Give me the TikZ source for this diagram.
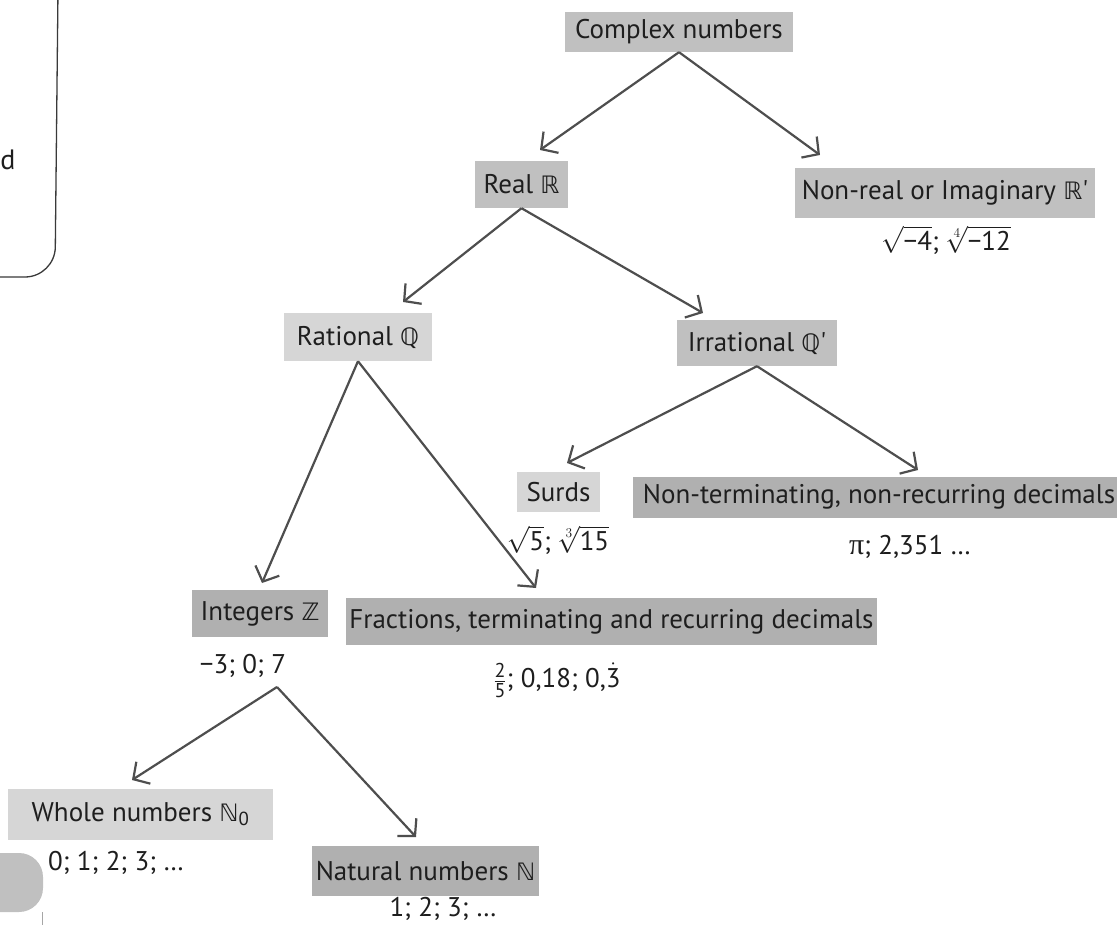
\RequirePackage{fix-cm}
\documentclass[tikz,border=0pt]{standalone}
\usepackage{fontspec}
\setmainfont{PT Sans}
\newfontfamily\dsfont{DejaVu Sans}
\newfontfamily\pifont{Liberation Serif}
\usetikzlibrary{arrows.meta}
\definecolor{boxdark}{HTML}{B0B0B0}
\definecolor{boxmid}{HTML}{C0C0C0}
\definecolor{boxlight}{HTML}{D6D6D6}
\definecolor{linecol}{HTML}{4E4E4E}
\definecolor{txtcol}{HTML}{1E1E1E}
\definecolor{framecol}{HTML}{3A3A3A}
\newcommand{\ds}[1]{{\dsfont\fontsize{24}{26}\selectfont #1}}
\newcommand{\sn}[1]{\mbox{\fontsize{20}{20}\selectfont #1}}
\tikzset{
  cat/.style={fill=#1, inner sep=0pt, text=txtcol, font=\fontsize{27}{30}\selectfont, anchor=center},
  sublabel/.style={inner sep=0pt, text=txtcol, font=\fontsize{27}{30}\selectfont, anchor=center},
  arr/.style={draw=linecol, line width=2.2pt, -{Straight Barb[length=12pt,width=26pt,line width=2.2pt]}}
}
\begin{document}
\begin{tikzpicture}[x=1pt,y=-1pt]
\useasboundingbox (0,0) rectangle (1117,925);
\fill[white] (0,0) rectangle (1117,925);
% page fragments
\draw[framecol, line width=1.3pt, rounded corners=30pt] (58,-10) -- (55,277) -- (-10,277);
\node[inner sep=0pt, text=txtcol, font=\fontsize{28}{30}\selectfont] (frag) at (8,160) {d};
\fill[boxmid, rounded corners=24pt] (-30,912) -- (-30,853) -- (43,853) -- (43,912) -- cycle;
\draw[gray!70, line width=0.8pt] (42,912) -- (42,930);
% category boxes
\node[cat=boxmid, minimum width=228pt, minimum height=40pt] (complex) at (679,32) {Complex numbers};
\node[cat=boxmid, minimum width=93pt, minimum height=47pt] (real) at (521.5,184.5) {Real \ds{ℝ}};
\node[cat=boxmid, minimum width=300pt, minimum height=50pt] (nonreal) at (945,193) {Non-real or Imaginary \ds{ℝ}\textquotesingle};
\node[sublabel] (nonrealsub) at (946,240) {$\sqrt{\mbox{−4}}$; $\sqrt[4]{\mbox{−12}}$};
\node[cat=boxlight, minimum width=148pt, minimum height=48pt] (rational) at (358,337) {Rational \ds{ℚ}};
\node[cat=boxmid, minimum width=160pt, minimum height=46pt] (irrational) at (757,343) {Irrational \ds{ℚ}\textquotesingle};
\node[cat=boxlight, minimum width=83pt, minimum height=40pt] (surds) at (558.5,492) {Surds};
\node[sublabel] (surdsub) at (558,540) {$\sqrt{\mbox{5}}$; $\sqrt[3]{\mbox{15}}$};
\node[cat=boxdark, minimum width=492pt, minimum height=41pt] (nonterm) at (879,497) {Non-terminating, non-recurring decimals};
\node[sublabel] (nontermsub) at (910,547) {{\pifont\fontsize{30}{30}\selectfont π}; 2,351 …};
\node[cat=boxdark, minimum width=136pt, minimum height=47pt] (integers) at (260,613.5) {Integers \ds{ℤ}};
\node[sublabel] (intsub) at (243,666) {−3; 0; 7};
\node[cat=boxdark, minimum width=531pt, minimum height=47pt] (fractions) at (611.5,621.5) {Fractions, terminating and recurring decimals};
\node[sublabel] (fracsub) at (557,680) {$\frac{\sn{2}}{\sn{5}}$; 0,18; 0,$\dot{\mbox{3}}$};
\node[cat=boxlight, minimum width=265pt, minimum height=51pt] (whole) at (140.5,814.5) {Whole numbers \ds{ℕ}\textsubscript{0}};
\node[sublabel] (wholesub) at (116,863) {0; 1; 2; 3; …};
\node[cat=boxdark, minimum width=227pt, minimum height=50pt] (natural) at (425.5,871) {Natural numbers \ds{ℕ}};
\node[sublabel] (natsub) at (443,909) {1; 2; 3; …};
% arrow end points
\coordinate (tReal) at (540,150);
\coordinate (tNonreal) at (820,155);
\coordinate (tRational) at (403,302);
\coordinate (tIrrational) at (703,313);
\coordinate (tInt) at (262,583);
\coordinate (tFrac) at (536,588);
\coordinate (tSurds) at (567,463);
\coordinate (tNonterm) at (918,470);
\coordinate (aInt) at (277,687);
\coordinate (tWhole) at (132,780);
\coordinate (tNat) at (416,837);
% connectors
\draw[arr] (complex.south) -- (tReal);
\draw[arr] (complex.south) -- (tNonreal);
\draw[arr] (real.south) -- (tRational);
\draw[arr] (real.south) -- (tIrrational);
\draw[arr] (rational.south) -- (tInt);
\draw[arr] (rational.south) -- (tFrac);
\draw[arr] (irrational.south) -- (tSurds);
\draw[arr] (irrational.south) -- (tNonterm);
\draw[arr] (aInt) -- (tWhole);
\draw[arr] (aInt) -- (tNat);
\end{tikzpicture}
\end{document}
